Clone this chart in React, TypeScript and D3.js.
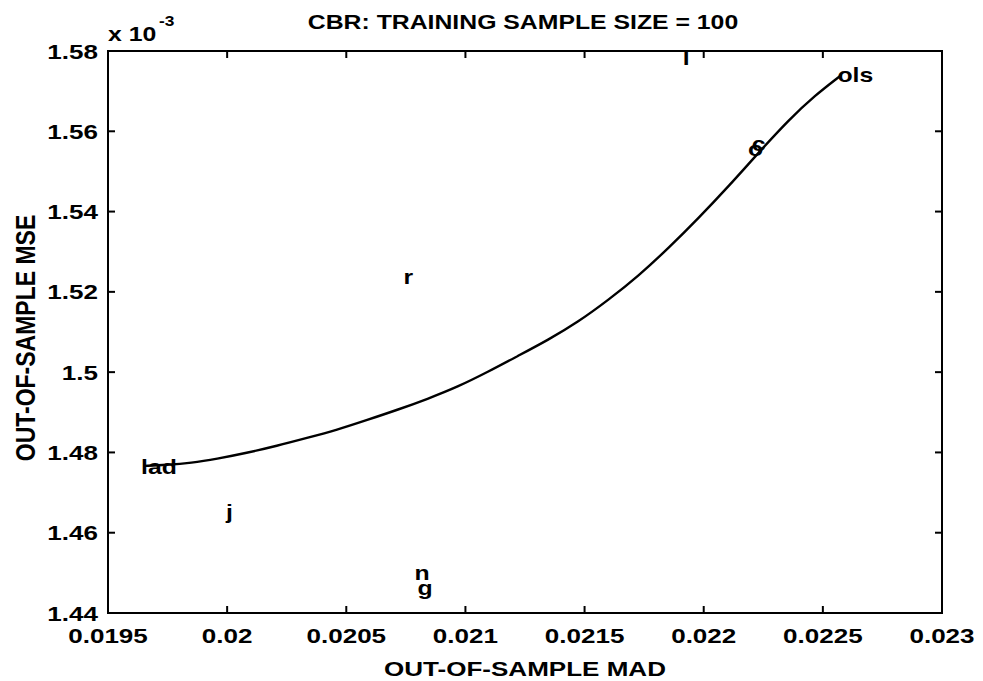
import React from "react";
import * as d3 from "d3";

const xTicks = [0.0195, 0.02, 0.0205, 0.021, 0.0215, 0.022, 0.0225, 0.023];
const xTickLabels = ["0.0195", "0.02", "0.0205", "0.021", "0.0215", "0.022", "0.0225", "0.023"];
const yTicks = [1.44, 1.46, 1.48, 1.5, 1.52, 1.54, 1.56, 1.58];
const yTickLabels = ["1.44", "1.46", "1.48", "1.5", "1.52", "1.54", "1.56", "1.58"];

// frontier curve (MAD, MSE x 1e-3)
const curveMAD = [0.019652, 0.019745, 0.01985, 0.019955, 0.020082, 0.020208, 0.020335, 0.020461, 0.020588, 0.020714, 0.020841, 0.020967, 0.021094, 0.02122, 0.021347, 0.021473, 0.0216, 0.021726, 0.021853, 0.021979, 0.022106, 0.022232, 0.022358, 0.022464, 0.022578];
const curveMSE = [1.47664, 1.47689, 1.47739, 1.47838, 1.47988, 1.48162, 1.48361, 1.48561, 1.4881, 1.49059, 1.49333, 1.49631, 1.50005, 1.50403, 1.50802, 1.5125, 1.51798, 1.52396, 1.53093, 1.53841, 1.54638, 1.55480, 1.56290, 1.56880, 1.57402];

// labelled estimators
const pointNames = ["lad", "ols", "o", "c", "r", "j", "n", "g", "l"];
const pointMAD = [0.019639, 0.022561, 0.022186, 0.022202, 0.020740, 0.019995, 0.020786, 0.020799, 0.021912];
const pointMSE = [1.4764, 1.5740, 1.5557, 1.5568, 1.5237, 1.4652, 1.4500, 1.4463, 1.5783];

const W = 983;
const H = 681;
const L = 108, R = 942, T = 51, B = 613;
const S = 1.24; // horizontal stretch of the scanned type
const FONT = "'Liberation Sans', Arial, Helvetica, sans-serif";

function HText({ x, y, anchor = "start", size = 21, children }: any) {
  return (
    <text
      transform={`translate(${x},${y}) scale(${S},1)`}
      textAnchor={anchor}
      fontFamily={FONT}
      fontWeight="bold"
      fontSize={size}
      fill="#000"
    >
      {children}
    </text>
  );
}

export default function App() {
  const x = d3.scaleLinear().domain([0.0195, 0.023]).range([L, R]);
  const y = d3.scaleLinear().domain([1.44, 1.58]).range([B, T]);
  const line = d3
    .line<number>()
    .x((_, i) => x(curveMAD[i]))
    .y((_, i) => y(curveMSE[i]))
    .curve(d3.curveBasis);
  const tick = 7;

  return (
    <svg width={W} height={H} style={{ position: "absolute", left: 0, top: 0, background: "#fff" }}>
      <rect x={0} y={0} width={W} height={H} fill="#fff" />
      {/* frame */}
      <rect x={L} y={T} width={R - L} height={B - T} fill="none" stroke="#000" strokeWidth={2} />
      {/* x ticks */}
      {xTicks.map((t, i) => (
        <g key={"xt" + i}>
          <line x1={x(t)} x2={x(t)} y1={B} y2={B - tick} stroke="#000" strokeWidth={2} />
          <line x1={x(t)} x2={x(t)} y1={T} y2={T + tick} stroke="#000" strokeWidth={2} />
          <HText x={x(t)} y={643} anchor="middle">{xTickLabels[i]}</HText>
        </g>
      ))}
      {/* y ticks */}
      {yTicks.map((t, i) => (
        <g key={"yt" + i}>
          <line x1={L} x2={L + tick} y1={y(t)} y2={y(t)} stroke="#000" strokeWidth={2} />
          <line x1={R} x2={R - tick} y1={y(t)} y2={y(t)} stroke="#000" strokeWidth={2} />
          <HText x={98} y={y(t) + 7.5} anchor="end">{yTickLabels[i]}</HText>
        </g>
      ))}
      {/* exponent */}
      <HText x={108} y={41} size={20}>x 10</HText>
      <HText x={159} y={26} size={14}>-3</HText>
      {/* title */}
      <HText x={(L + R) / 2 - 2} y={29} anchor="middle" size={20}>CBR: TRAINING SAMPLE SIZE = 100</HText>
      {/* x label */}
      <HText x={(L + R) / 2} y={676} anchor="middle" size={21}>OUT-OF-SAMPLE MAD</HText>
      {/* y label */}
      <text
        transform={`translate(35,${(T + B) / 2 + 6}) scale(${S},1) rotate(-90)`}
        textAnchor="middle"
        fontFamily={FONT}
        fontWeight="bold"
        fontSize={23}
      >
        OUT-OF-SAMPLE MSE
      </text>
      {/* curve */}
      <path d={line(curveMAD) || ""} fill="none" stroke="#000" strokeWidth={2.4} />
      {/* point labels */}
      {pointNames.map((n, i) => (
        <HText key={"p" + i} x={x(pointMAD[i])} y={y(pointMSE[i]) + 7} size={20}>
          {n}
        </HText>
      ))}
    </svg>
  );
}
